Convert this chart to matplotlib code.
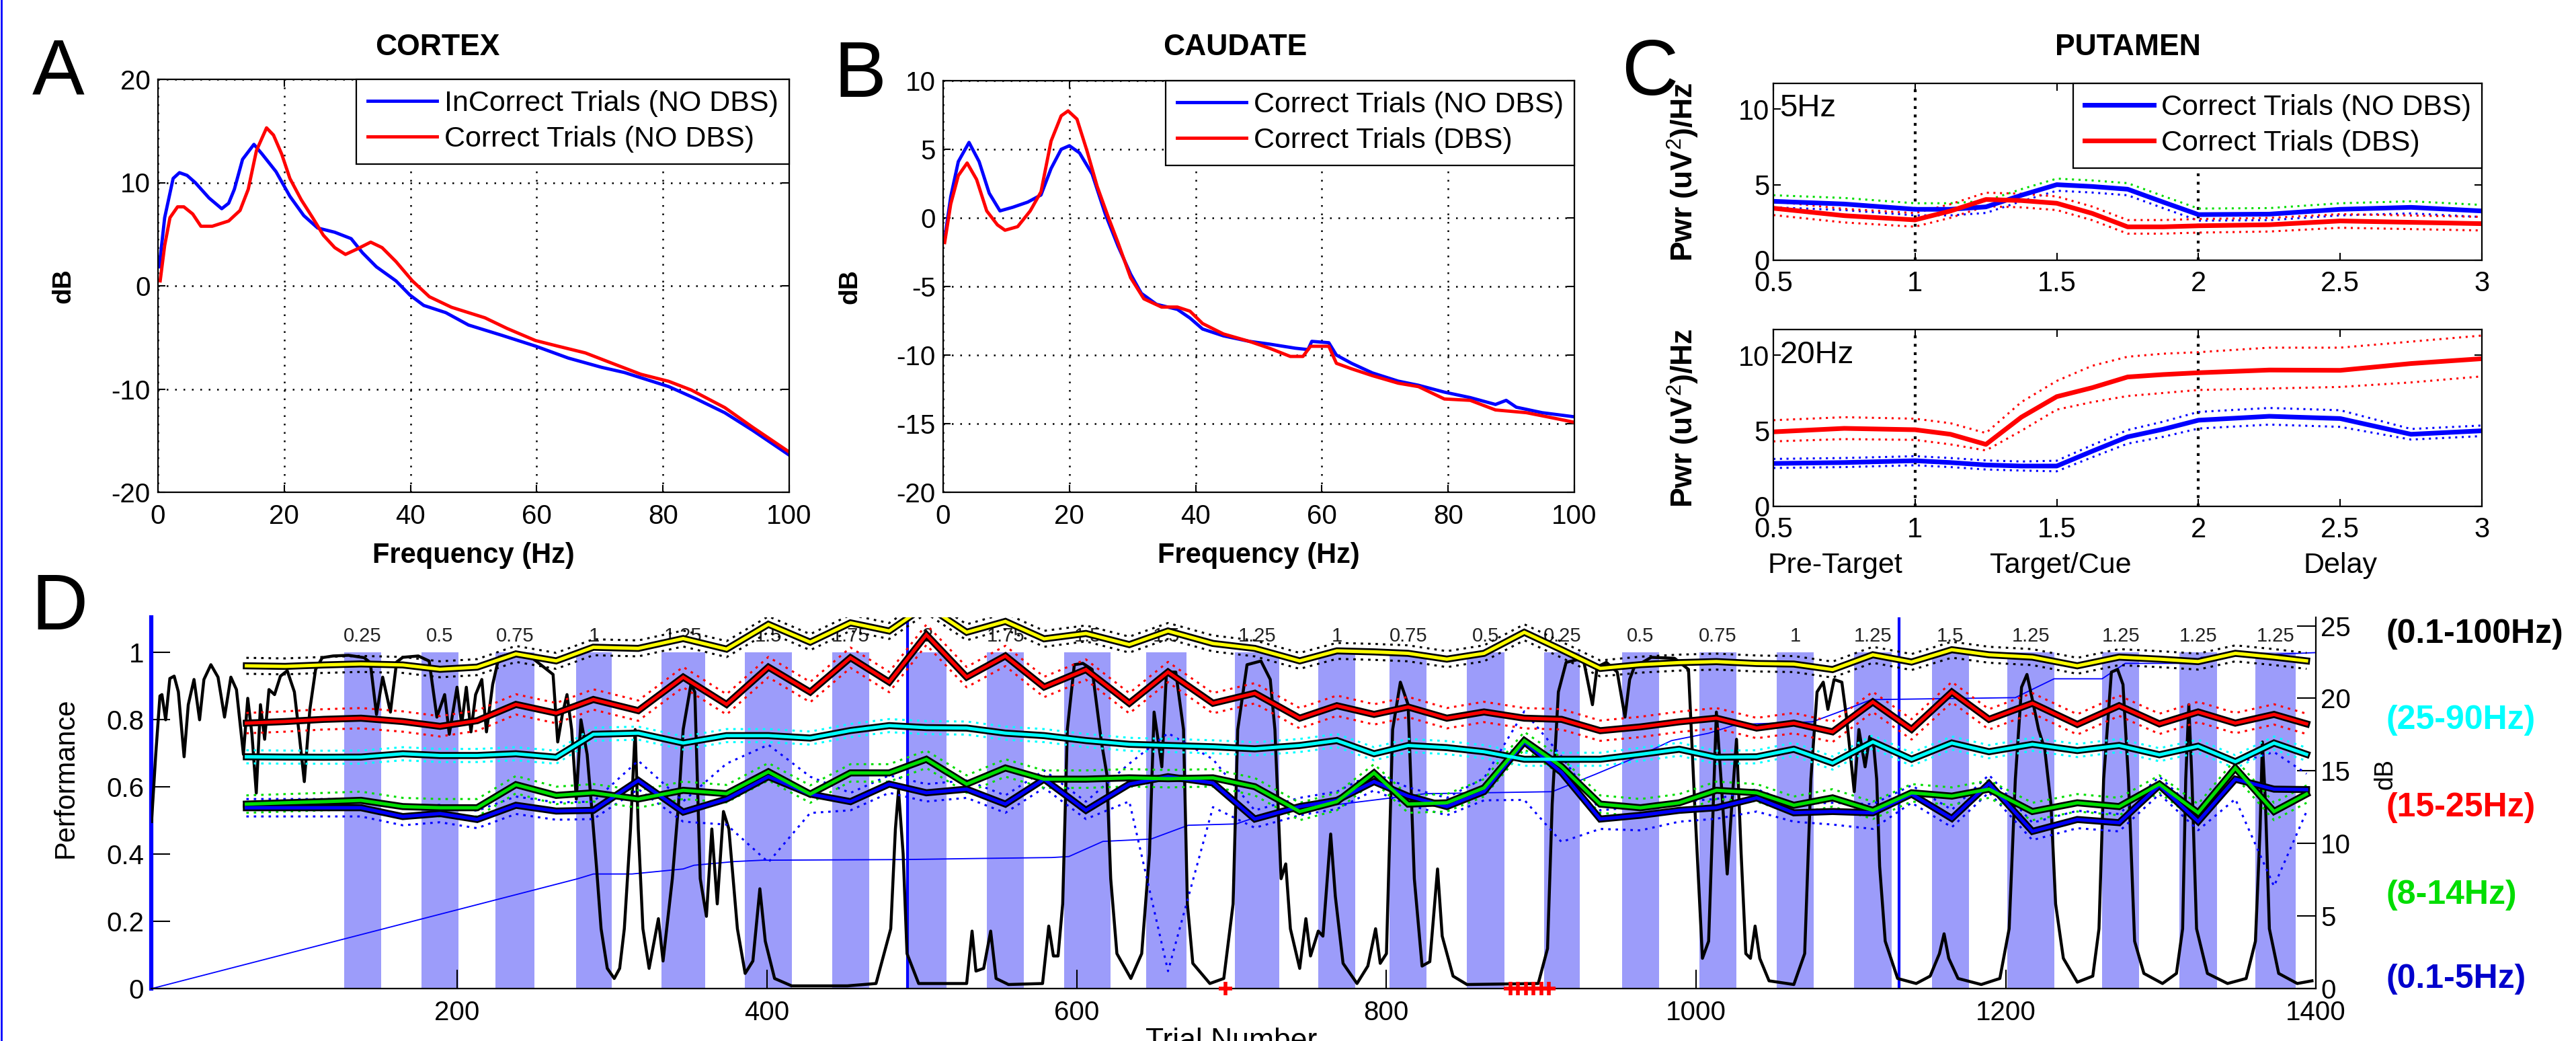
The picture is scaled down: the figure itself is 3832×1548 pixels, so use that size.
import numpy as np
import matplotlib
matplotlib.use("Agg")
import matplotlib.pyplot as plt
from matplotlib.lines import Line2D
from matplotlib.ticker import FormatStrFormatter

plt.rcParams['font.family'] = ['Liberation Sans', 'DejaVu Sans']
plt.rcParams['axes.unicode_minus'] = False
plt.rcParams['mathtext.fontset'] = 'custom'
plt.rcParams['mathtext.rm'] = 'Liberation Sans'
plt.rcParams['mathtext.bf'] = 'Liberation Sans:bold'
plt.rcParams['mathtext.it'] = 'Liberation Sans:italic'

# ======================= DATA =======================
# Panel A (CORTEX)
A_freq_incorrect = [0.2, 1.06, 2.4, 3.4, 4.6, 5.9, 8.1, 10.1, 11.2, 12.1, 13.4, 15.2, 16.5, 18.7, 20.9,
                    23.1, 25.3, 28, 30.6, 32.4, 34.6, 37.7, 39.9, 42.1, 45.6, 49.2, 54.5, 59.8, 65, 70.3,
                    73.9, 77.4, 80.9, 85.3, 89.8, 94.2, 100]
A_db_incorrect = [1.84, 6.6, 10.4, 10.96, 10.7, 10.0, 8.5, 7.47, 8.0, 9.35, 12.25, 13.7, 12.76, 11.06, 8.67,
                  6.8, 5.6, 5.19, 4.57, 3.2, 1.84, 0.48, -0.89, -1.9, -2.6, -3.8, -4.8, -5.84, -7.0, -7.9,
                  -8.4, -9.08, -9.76, -10.96, -12.3, -14.0, -16.4]
A_freq_correct = [0.35, 1.06, 1.9, 3.1, 4.1, 5.5, 6.8, 8.6, 11.2, 13, 14.3, 15.6, 17.2, 18.3, 19.6, 20.9,
                  22.7, 24.5, 26.2, 28, 29.7, 31.5, 33.7, 35.5, 37.7, 40.3, 43, 46.5, 49.2, 51.8, 55.3,
                  59.8, 63.3, 67.7, 72.1, 76.5, 80.9, 84.5, 89.8, 94.2, 100]
A_db_correct = [0.48, 3.9, 6.6, 7.65, 7.65, 6.96, 5.77, 5.77, 6.28, 7.3, 9.35, 13.1, 15.3, 14.6, 12.76, 10.4,
                8.33, 6.6, 4.9, 3.7, 3.04, 3.55, 4.23, 3.7, 2.35, 0.48, -1.06, -2.08, -2.6, -3.1, -4.13,
                -5.3, -5.84, -6.5, -7.54, -8.57, -9.25, -10.1, -11.8, -13.7, -16.1]

# Panel B (CAUDATE)
B_freq_nodbs = [0.24, 1.2, 2.4, 4.1, 5.7, 7.3, 9, 11, 13.4, 15.5, 17.1, 18.7, 20, 21.6, 23.6, 25.7, 27.7,
                29.7, 31.4, 33.8, 37.1, 39.1, 41.1, 44.4, 48.5, 51.7, 55.8, 57.8, 58.4, 61.1, 62.3, 64.7,
                68, 72.1, 75.3, 79.4, 83.5, 87.5, 89.2, 90.8, 94.9, 100]
B_db_nodbs = [-1.54, 1.54, 4.1, 5.5, 4.1, 1.8, 0.51, 0.77, 1.15, 1.67, 3.6, 5.0, 5.26, 4.74, 3.2, 0.26, -2.05,
              -4.1, -5.5, -6.3, -6.67, -7.3, -8.1, -8.6, -9.0, -9.2, -9.5, -9.6, -9.0, -9.1, -10.0, -10.6,
              -11.3, -11.9, -12.2, -12.7, -13.1, -13.6, -13.3, -13.8, -14.2, -14.5]
B_freq_dbs = [0.24, 1.2, 2.4, 3.8, 5.3, 6.9, 8.6, 9.8, 11.8, 13.8, 15.5, 17.1, 18.7, 19.8, 21.2, 22.8, 24.4,
              26.1, 27.7, 29.7, 31.8, 34.6, 37.1, 39.1, 41.1, 44.4, 48.5, 51.7, 55, 57, 58.2, 61.1, 62.3,
              64.7, 68, 72.1, 75.3, 79.4, 83.5, 87.5, 92.4, 95.7, 100]
B_db_dbs = [-1.8, 1.0, 3.08, 4.0, 2.8, 0.51, -0.51, -0.9, -0.64, 0.51, 1.9, 5.6, 7.44, 7.8, 7.2, 4.87, 2.3,
            0.13, -1.8, -4.36, -5.9, -6.5, -6.5, -6.8, -7.7, -8.46, -9.0, -9.5, -10.1, -10.1, -9.36, -9.36,
            -10.6, -11.0, -11.5, -12.05, -12.3, -13.2, -13.3, -14.0, -14.2, -14.5, -14.9]

# Panel C (PUTAMEN)
C_time = [0.5, 0.75, 1.0, 1.125, 1.25, 1.375, 1.5, 1.625, 1.75, 1.875, 2.0, 2.25, 2.5, 2.75, 3.0]
C5_nodbs = [3.9, 3.72, 3.37, 3.37, 3.53, 4.3, 5.0, 4.88, 4.7, 3.85, 3.02, 3.05, 3.37, 3.5, 3.26]
C5_dbs = [3.44, 2.95, 2.67, 3.26, 4.02, 3.95, 3.77, 3.1, 2.21, 2.21, 2.28, 2.35, 2.6, 2.51, 2.42]
C5_nodbs_err = 0.4
C5_dbs_err = 0.45
C20_nodbs = [2.84, 2.9, 3.02, 2.9, 2.74, 2.67, 2.67, 3.65, 4.6, 5.1, 5.7, 5.96, 5.81, 4.77, 5.0]
C20_nodbs_err = [0.3, 0.3, 0.3, 0.3, 0.3, 0.3, 0.35, 0.4, 0.45, 0.5, 0.55, 0.55, 0.55, 0.35, 0.35]
C20_dbs = [4.93, 5.16, 5.07, 4.77, 4.1, 5.9, 7.26, 7.85, 8.56, 8.72, 8.84, 9.02, 9.0, 9.45, 9.77]
C20_dbs_hi = [5.7, 5.9, 5.8, 5.5, 4.85, 6.9, 8.3, 9.3, 9.9, 10.1, 10.2, 10.5, 10.5, 10.9, 11.3]
C20_dbs_lo = [4.3, 4.45, 4.4, 4.1, 3.7, 5.0, 6.4, 6.9, 7.3, 7.5, 7.7, 7.8, 7.9, 8.2, 8.6]
C_phase_labels = ['Pre-Target', 'Target/Cue', 'Delay']

# Panel D - performance curve (trial, performance)
perf_trial = [2.8, 5.5, 8.2, 9.5, 11.9, 14.6, 17.4, 20.1, 23.8, 26.5, 30.2, 33.8, 36.6, 41.1, 45.7, 49.9, 54,
              57.6, 62.1, 64.9, 67.6, 70.4, 73.1, 75.8, 78.6, 82.2, 86, 90.4, 95, 97.8, 101.4, 105, 108.7,
              113, 120, 130, 140, 144, 148, 152, 157, 161, 165, 175, 182, 187, 192, 195, 200, 203, 206, 209,
              212, 216, 219, 223, 227, 237, 248, 262, 265, 268, 271, 274, 277, 280, 284, 287, 290, 293, 297,
              301.5, 305, 308, 312, 315, 317, 320, 324, 330, 333, 339, 343, 346, 351, 353.5, 357, 361,
              364.5, 368, 372, 375.5, 381, 386, 391, 395.5, 399, 405, 416, 452, 470.5, 480, 483, 485, 488,
              490.5, 498, 529, 532.5, 535, 540, 544.5, 548, 556, 578, 582, 585, 588, 591, 594, 598.5, 604,
              610, 616, 619.5, 622, 626, 635, 642, 647, 650, 652.3, 655, 658, 664, 669, 671.5, 675, 686, 695,
              701, 704, 710, 719, 725, 728, 732, 735, 738, 744, 748, 751, 756, 759, 764, 767, 772, 781, 788,
              793, 796, 800, 804, 809, 814, 818, 823, 828, 833, 836, 843, 852, 898, 904, 907, 911, 916, 927,
              933, 936, 942, 949, 954, 957, 960, 971, 986, 995, 999, 1004, 1008, 1011, 1013, 1016, 1020,
              1023, 1026, 1029, 1032, 1035, 1038, 1041, 1047, 1063, 1070, 1074, 1078, 1082, 1085, 1089,
              1094, 1097, 1102, 1105, 1109, 1112, 1114.5, 1116.5, 1118.4, 1122, 1130, 1142, 1151, 1157,
              1160, 1163, 1169, 1184, 1196, 1202, 1206, 1210, 1213.5, 1217, 1221, 1225, 1229, 1232, 1237,
              1246, 1256, 1260, 1263, 1268, 1272, 1275.5, 1279, 1283, 1289, 1301, 1310, 1314, 1316, 1318,
              1320, 1323, 1330, 1343, 1355, 1361, 1364, 1365.5, 1367.5, 1370, 1376, 1388, 1397.5]
perf_value = [0.497, 0.697, 0.871, 0.875, 0.80, 0.923, 0.93, 0.883, 0.69, 0.845, 0.92, 0.80, 0.92, 0.964,
              0.927, 0.808, 0.927, 0.89, 0.697, 0.864, 0.757, 0.582, 0.845, 0.742, 0.89, 0.875, 0.93, 0.946,
              0.883, 0.77, 0.616, 0.831, 0.95, 0.985, 0.99, 0.992, 0.985, 0.97, 0.816, 0.927, 0.823, 0.972,
              0.986, 0.99, 0.975, 0.808, 0.875, 0.757, 0.897, 0.786, 0.897, 0.764, 0.875, 0.92, 0.764, 0.905,
              0.986, 1.0, 0.986, 0.935, 0.734, 0.816, 0.875, 0.771, 0.564, 0.80, 0.697, 0.534, 0.364, 0.178,
              0.06, 0.030, 0.06, 0.178, 0.475, 0.771, 0.475, 0.178, 0.06, 0.208, 0.082, 0.327, 0.549, 0.771,
              0.905, 0.883, 0.327, 0.215, 0.475, 0.252, 0.527, 0.475, 0.178, 0.045, 0.082, 0.297, 0.141,
              0.030, 0.008, 0.008, 0.015, 0.178, 0.475, 0.59, 0.401, 0.104, 0.015, 0.015, 0.171, 0.052, 0.06,
              0.171, 0.030, 0.012, 0.015, 0.186, 0.097, 0.097, 0.252, 0.771, 0.964, 0.968, 0.95, 0.734, 0.638,
              0.327, 0.104, 0.030, 0.104, 0.401, 0.823, 0.749, 0.66, 0.942, 0.942, 0.771, 0.252, 0.075, 0.015,
              0.030, 0.252, 0.771, 0.964, 0.975, 0.92, 0.771, 0.327, 0.371, 0.178, 0.06, 0.208, 0.097, 0.171,
              0.156, 0.46, 0.275, 0.075, 0.015, 0.067, 0.178, 0.075, 0.104, 0.771, 0.912, 0.845, 0.327, 0.067,
              0.08, 0.356, 0.156, 0.037, 0.012, 0.015, 0.119, 0.549, 0.883, 0.971, 0.983, 0.845, 0.957, 0.971,
              0.942, 0.808, 0.92, 0.957, 0.986, 0.983, 0.95, 0.549, 0.09, 0.141, 0.549, 0.823, 0.623, 0.341,
              0.549, 0.742, 0.401, 0.104, 0.09, 0.186, 0.09, 0.023, 0.012, 0.104, 0.623, 0.883, 0.912, 0.831,
              0.92, 0.912, 0.808, 0.586, 0.771, 0.66, 0.75, 0.727, 0.623, 0.364, 0.141, 0.030, 0.015, 0.037,
              0.104, 0.163, 0.09, 0.030, 0.012, 0.030, 0.178, 0.623, 0.897, 0.935, 0.86, 0.771, 0.712, 0.549,
              0.252, 0.09, 0.019, 0.037, 0.178, 0.623, 0.942, 0.95, 0.905, 0.623, 0.141, 0.045, 0.015, 0.045,
              0.178, 0.623, 0.845, 0.623, 0.178, 0.045, 0.015, 0.030, 0.141, 0.475, 0.734, 0.549, 0.178,
              0.045, 0.015, 0.023]

# Panel D - cumulative learning curve (thin blue)
cum_trial = [3, 278, 288, 313, 346, 353, 379, 397, 489, 533, 584, 595, 617, 648, 672, 703, 717, 744, 783,
             825, 907, 935, 962, 984, 1008, 1026, 1075, 1103, 1113, 1206, 1231, 1262, 1277, 1322, 1326, 1400]
cum_value = [0.0, 0.327, 0.341, 0.341, 0.356, 0.367, 0.378, 0.382, 0.384, 0.387, 0.39, 0.393, 0.438, 0.445,
             0.486, 0.49, 0.512, 0.534, 0.556, 0.58, 0.586, 0.638, 0.69, 0.738, 0.76, 0.786, 0.794, 0.842,
             0.86, 0.866, 0.922, 0.922, 0.968, 0.968, 0.986, 1.0]

# Panel D - DBS blocks (shaded bands) with their labels
band_start = [127, 177, 225, 277, 332, 386, 442, 491, 542, 592, 645, 702, 756, 802, 852, 902, 952, 1002,
              1052, 1102, 1152, 1201, 1262, 1312, 1361]
band_end = [151, 201, 250, 300, 360, 416, 466, 516, 566, 622, 671, 731, 780, 826, 876, 925, 976, 1026,
            1076, 1126, 1176, 1231, 1286, 1336, 1387]
band_labels = ['0.25', '0.5', '0.75', '1', '1.25', '1.5', '1.75', '2', '1.75', '1.5', '1.5', '1.25', '1',
               '0.75', '0.5', '0.25', '0.5', '0.75', '1', '1.25', '1.5', '1.25', '1.25', '1.25', '1.25']
session_lines = [491, 1131]
error_trials = [696, 880, 885, 890, 895, 900, 905]

# Panel D - band power (dB)
bp_trial = [64, 89, 114, 138, 165, 189, 213, 238, 264, 288, 317, 346, 374, 401, 428, 454, 479, 503, 529,
            554, 579, 606, 634, 659, 688, 715, 744, 768, 792, 814, 839, 863, 889, 913, 938, 964, 989, 1013,
            1039, 1063, 1088, 1114, 1139, 1165, 1189, 1217, 1246, 1273, 1299, 1324, 1348, 1373, 1394]
bp_broad = [22.24, 22.2, 22.3, 22.37, 22.3, 22.0, 22.15, 23.06, 22.58, 23.52, 23.44, 24.12, 23.39, 25.1,
            23.87, 25.2, 24.64, 26.4, 24.55, 25.3, 24.1, 24.47, 23.7, 24.64, 23.78, 23.44, 22.58, 23.27, 23.2,
            23.1, 22.7, 23.1, 24.55, 23.35, 22.06, 22.32, 22.46, 22.53, 22.4, 22.36, 21.98, 23.0, 22.5, 23.35,
            23.0, 22.84, 22.24, 22.84, 22.7, 22.53, 23.1, 22.84, 22.58]
bp_beta = [18.29, 18.4, 18.55, 18.63, 18.4, 18.07, 18.46, 19.58, 18.98, 19.92, 19.15, 21.46, 19.58, 22.15,
           20.43, 22.8, 21.12, 24.38, 21.46, 22.92, 20.78, 21.98, 19.66, 21.81, 19.66, 20.35, 18.63, 19.49,
           18.89, 19.4, 18.63, 19.06, 18.63, 18.55, 17.77, 18.03, 18.38, 18.63, 17.95, 18.29, 17.69, 19.75,
           17.86, 20.43, 18.55, 19.66, 18.2, 19.49, 18.24, 19.06, 18.29, 18.89, 18.24]
bp_gamma = [15.97, 15.95, 15.94, 15.95, 16.18, 16.06, 16.06, 16.18, 15.94, 17.52, 17.6, 16.92, 17.43, 17.43,
            17.26, 17.78, 18.12, 17.98, 17.95, 17.6, 17.43, 17.09, 16.83, 16.75, 16.66, 16.52, 16.75, 17.09,
            16.18, 16.75, 16.6, 16.32, 15.8, 15.8, 15.8, 16.14, 16.49, 15.94, 15.97, 16.49, 15.54, 17.0, 15.8,
            16.92, 16.32, 16.83, 16.4, 16.75, 16.11, 16.7, 15.63, 16.92, 16.14]
bp_alpha = [12.71, 12.8, 12.88, 12.97, 12.54, 12.46, 12.46, 14.05, 13.31, 13.49, 13.06, 13.66, 13.43, 14.94,
            13.4, 14.86, 14.86, 15.8, 14.09, 15.2, 14.43, 14.43, 14.52, 14.46, 14.52, 13.91, 12.2, 12.88,
            14.86, 12.71, 12.8, 13.83, 17.09, 15.3, 12.71, 12.46, 12.8, 13.66, 13.49, 12.63, 13.14, 12.28,
            13.49, 13.26, 13.74, 12.2, 12.8, 12.54, 14.09, 12.11, 15.2, 12.2, 13.4]
bp_delta = [12.46, 12.46, 12.46, 12.46, 11.85, 12.06, 11.65, 12.63, 12.23, 12.28, 14.34, 12.16, 13.06, 14.6,
            13.4, 12.88, 14.09, 13.49, 13.74, 12.71, 14.43, 12.28, 14.09, 14.6, 14.17, 11.68, 12.54, 12.97,
            14.26, 13.26, 12.54, 13.57, 17.0, 14.9, 11.68, 11.94, 12.28, 12.46, 13.14, 12.11, 12.2, 12.11,
            13.4, 11.72, 14.12, 10.83, 11.65, 11.43, 14.0, 11.51, 14.43, 13.74, 13.71]
bp_delta_hi = [13.06, 13.06, 13.06, 13.06, 12.45, 12.66, 12.25, 13.23, 12.83, 12.88, 15.7, 12.9, 15.5, 16.8,
               14.6, 13.48, 14.69, 14.09, 14.34, 13.31, 15.03, 12.88, 15.5, 17.6, 15.8, 12.28, 13.14, 13.57,
               14.86, 13.86, 13.14, 14.5, 19.1, 16.0, 12.28, 12.54, 12.88, 13.06, 13.74, 12.71, 12.8, 12.71,
               14.0, 12.32, 14.72, 11.43, 12.25, 12.03, 14.6, 12.11, 15.5, 16.3, 14.8]
bp_delta_lo = [11.86, 11.86, 11.86, 11.86, 11.25, 11.46, 11.05, 12.03, 11.63, 11.68, 13.74, 11.5, 11.3, 8.7,
               12.1, 12.28, 13.49, 12.89, 13.14, 12.11, 13.83, 11.68, 12.9, 1.2, 12.5, 11.08, 11.94, 12.37,
               13.66, 12.66, 11.94, 12.97, 13.0, 10.1, 11.0, 10.9, 11.5, 11.7, 12.2, 11.5, 11.3, 11.0, 12.8,
               11.12, 13.52, 10.23, 11.05, 10.83, 13.4, 10.91, 13.06, 7.05, 12.2]
bp_half_width = {'broad': 0.55, 'beta': 0.7, 'gamma': 0.45, 'alpha': 0.6}
band_names = ['(0.1-100Hz)', '(25-90Hz)', '(15-25Hz)', '(8-14Hz)', '(0.1-5Hz)']

# ======================= FIGURE =======================
W, H = 3832, 1548
def R(l, t, r, b):
    return [l / W, 1 - b / H, (r - l) / W, (b - t) / H]
def FX(x):
    return x / W
def FY(y):
    return 1 - y / H

BLUE = '#0000ff'
RED = '#ff0000'
GREEN = '#00dd00'
CYAN = '#00ffff'
YELLOW = '#ffff00'
BAND = '#9c9cfa'

fig = plt.figure(figsize=(W / 100, H / 100), dpi=100)
fig.patch.set_facecolor('white')
fig.add_artist(Line2D([0.0006, 0.0006], [0, 1], color=BLUE, lw=2, transform=fig.transFigure))

TICK_FS = 29
LEG_FS = 31


def style_box(ax):
    for s in ax.spines.values():
        s.set_linewidth(1.6)
        s.set_color('k')
    ax.tick_params(direction='in', length=8, width=1.5, top=True, right=True,
                   labelsize=TICK_FS, colors='k')
    ax.tick_params(axis='x', pad=12)
    ax.tick_params(axis='y', pad=8)


def make_legend(ax):
    leg = ax.legend(loc='upper right', bbox_to_anchor=(1, 1), borderaxespad=0, fontsize=LEG_FS,
                    frameon=True, fancybox=False, edgecolor='k', framealpha=1, handlelength=2.4,
                    handletextpad=0.25, borderpad=0.38, labelspacing=0.3)
    leg.get_frame().set_linewidth(1.6)
    return leg


GRID_KW = dict(color='k', linewidth=1.8, linestyle=(0, (1, 4)))

# ---------- Panel A ----------
axA = fig.add_axes(R(235, 118, 1174, 732))
axA.plot(A_freq_incorrect, A_db_incorrect, color=BLUE, lw=3.5, label='InCorrect Trials (NO DBS)')
axA.plot(A_freq_correct, A_db_correct, color=RED, lw=3.5, label='Correct Trials (NO DBS)')
axA.set_xlim(0, 100)
axA.set_ylim(-20, 20)
axA.set_xticks([0, 20, 40, 60, 80, 100])
axA.set_yticks([-20, -10, 0, 10, 20])
axA.grid(True, **GRID_KW)
style_box(axA)
make_legend(axA)
axA.set_ylabel('dB', fontsize=28, fontweight='bold')
axA.yaxis.set_label_coords(-0.131, 0.5)
axA.text(0.5, -0.153, 'Frequency (Hz)', transform=axA.transAxes, ha='center', va='center',
         fontsize=30, fontweight='bold')
fig.text(FX(651), FY(71), 'CORTEX', ha='center', va='center', fontsize=32, fontweight='bold')
fig.text(FX(48), FY(141), 'A', ha='left', va='baseline', fontsize=84)

# ---------- Panel B ----------
axB = fig.add_axes(R(1403, 120, 2342, 732))
axB.plot(B_freq_nodbs, B_db_nodbs, color=BLUE, lw=3.5, label='Correct Trials (NO DBS)')
axB.plot(B_freq_dbs, B_db_dbs, color=RED, lw=3.5, label='Correct Trials (DBS)')
axB.set_xlim(0, 100)
axB.set_ylim(-20, 10)
axB.set_xticks([0, 20, 40, 60, 80, 100])
axB.set_yticks([-20, -15, -10, -5, 0, 5, 10])
axB.grid(True, **GRID_KW)
style_box(axB)
make_legend(axB)
axB.set_ylabel('dB', fontsize=28, fontweight='bold')
axB.yaxis.set_label_coords(-0.128, 0.5)
axB.text(0.5, -0.153, 'Frequency (Hz)', transform=axB.transAxes, ha='center', va='center',
         fontsize=30, fontweight='bold')
fig.text(FX(1837), FY(71), 'CAUDATE', ha='center', va='center', fontsize=32, fontweight='bold')
fig.text(FX(1240), FY(144), 'B', ha='left', va='baseline', fontsize=84)

# ---------- Panel C ----------
DOT = (0, (1, 2.2))
t = np.array(C_time)
axC1 = fig.add_axes(R(2638, 124, 3692, 387))
axC2 = fig.add_axes(R(2638, 490, 3692, 753))

nb = np.array(C5_nodbs)
db = np.array(C5_dbs)
axC1.plot(t, nb + C5_nodbs_err, color=GREEN, lw=2.2, ls=DOT)
axC1.plot(t, nb - C5_nodbs_err, color=BLUE, lw=2.2, ls=DOT)
axC1.plot(t, db + C5_dbs_err, color=RED, lw=2.2, ls=DOT)
axC1.plot(t, db - C5_dbs_err, color=RED, lw=2.2, ls=DOT)
axC1.plot(t, nb, color=BLUE, lw=5, label='Correct Trials (NO DBS)')
axC1.plot(t, db, color=RED, lw=5, label='Correct Trials (DBS)')
axC1.text(0.009, 0.858, '5Hz', transform=axC1.transAxes, ha='left', va='center', fontsize=34)

nb20 = np.array(C20_nodbs)
e20 = np.array(C20_nodbs_err)
axC2.plot(t, np.array(C20_dbs_hi), color=RED, lw=2.2, ls=DOT)
axC2.plot(t, np.array(C20_dbs_lo), color=RED, lw=2.2, ls=DOT)
axC2.plot(t, nb20 + e20, color=BLUE, lw=2.2, ls=DOT)
axC2.plot(t, nb20 - e20, color=BLUE, lw=2.2, ls=DOT)
axC2.plot(t, nb20, color=BLUE, lw=5)
axC2.plot(t, C20_dbs, color=RED, lw=5)
axC2.text(0.009, 0.856, '20Hz', transform=axC2.transAxes, ha='left', va='center', fontsize=34)

for ax in (axC1, axC2):
    ax.set_xlim(0.5, 3)
    ax.set_ylim(0, 11.7)
    ax.set_xticks([0.5, 1, 1.5, 2, 2.5, 3])
    ax.set_yticks([0, 5, 10])
    ax.xaxis.set_major_formatter(FormatStrFormatter('%g'))
    for xv in (1, 2):
        ax.axvline(xv, color='k', lw=3, ls=(0, (1, 2.0)), zorder=1)
    style_box(ax)
    ax.tick_params(axis='x', labelsize=30, pad=11)
    ax.tick_params(axis='y', labelsize=30, pad=4)
    ax.set_ylabel('Pwr (uV$^{2}$)/Hz', fontsize=32, fontweight='bold')
    ax.yaxis.set_label_coords(-0.1025, 0.5)
make_legend(axC1)
fig.text(FX(3165), FY(71), 'PUTAMEN', ha='center', va='center', fontsize=32, fontweight='bold')
fig.text(FX(2412), FY(141), 'C', ha='left', va='baseline', fontsize=84)
for lab, xc in zip(C_phase_labels, [2730, 3065, 3481]):
    fig.text(FX(xc), FY(841), lab, ha='center', va='center', fontsize=31)

# ---------- Panel D ----------
axD = fig.add_axes(R(225, 918, 3445, 1470))
axD.set_xlim(2.6, 1400)
axD.set_ylim(0, 1.105)
for s, e in zip(band_start, band_end):
    axD.fill_between([s, e], [0, 0], [1, 1], color=BAND, lw=0, zorder=0)
for s, e, lab in zip(band_start, band_end, band_labels):
    axD.text((s + e) / 2, 1.048, lab, ha='center', va='center', fontsize=21, color='#222222', zorder=1)
axD.plot(cum_trial, cum_value, color=BLUE, lw=1.3, zorder=2)
for v in session_lines:
    axD.axvline(v, color=BLUE, lw=3, zorder=2)
axD.plot(perf_trial, perf_value, color='k', lw=3.2, zorder=3)
axD.plot(error_trials, [0] * len(error_trials), '+', color=RED, ms=15, mew=4, clip_on=False, zorder=6)
axD.set_xticks([200, 400, 600, 800, 1000, 1200, 1400])
axD.set_yticks([0, 0.2, 0.4, 0.6, 0.8, 1.0])
axD.yaxis.set_major_formatter(FormatStrFormatter('%g'))
axD.spines['top'].set_visible(False)
axD.spines['right'].set_visible(False)
axD.spines['left'].set_color(BLUE)
axD.spines['left'].set_linewidth(4.5)
axD.spines['bottom'].set_linewidth(1.6)
axD.tick_params(direction='in', length=20, width=1.5, labelsize=TICK_FS, colors='k')
axD.tick_params(axis='x', pad=12)
axD.tick_params(axis='y', pad=8)
axD.set_ylabel('Performance', fontsize=30)
axD.yaxis.set_label_coords(-(225 - 118) / 3220, (1470 - 1157) / 552)

ax2 = axD.twinx()
ax2.set_ylim(0, 25.58)
ax2.set_yticks([0, 5, 10, 15, 20, 25])
for side in ('top', 'left', 'bottom'):
    ax2.spines[side].set_visible(False)
ax2.spines['right'].set_linewidth(1.6)
ax2.tick_params(axis='y', direction='in', length=20, width=1.5, labelsize=TICK_FS, pad=5)
ax2.set_ylabel('dB', fontsize=27, rotation=90)
ax2.yaxis.set_label_coords(1.0 + (3530 - 3445) / 3220, (1470 - 1151) / 552)

x = np.array(bp_trial)
BDOT = (0, (1.2, 2.4))


def band_power(y, color, lo, hi, bound_color_hi, bound_color_lo):
    y = np.array(y)
    ax2.plot(x, hi, color=bound_color_hi, lw=2.2, ls=BDOT, zorder=2)
    ax2.plot(x, lo, color=bound_color_lo, lw=2.2, ls=BDOT, zorder=2)
    ax2.plot(x, y, color='k', lw=7.5, zorder=3, solid_joinstyle='miter')
    ax2.plot(x, y, color=color, lw=3.6, zorder=4, solid_joinstyle='miter')


band_power(bp_delta, BLUE, np.array(bp_delta_lo), np.array(bp_delta_hi), BLUE, BLUE)
a = np.array(bp_alpha)
band_power(a, GREEN, a - bp_half_width['alpha'], a + bp_half_width['alpha'], GREEN, GREEN)
g = np.array(bp_gamma)
band_power(g, CYAN, g - bp_half_width['gamma'], g + bp_half_width['gamma'], CYAN, CYAN)
b = np.array(bp_beta)
band_power(b, RED, b - bp_half_width['beta'], b + bp_half_width['beta'], RED, RED)
y = np.array(bp_broad)
band_power(y, YELLOW, y - bp_half_width['broad'], y + bp_half_width['broad'], 'k', 'k')

fig.text(FX(46), FY(936), 'D', ha='left', va='baseline', fontsize=84)
fig.text(FX(1832), FY(1528), 'Trial Number', ha='center', va='top', fontsize=32)

for name, col, yc in zip(band_names, ['k', CYAN, RED, GREEN, '#0000cc'], [943, 1071, 1201, 1331, 1456]):
    fig.text(FX(3549), FY(yc), name, ha='left', va='center', fontsize=36, fontweight='bold', color=col)

fig.savefig('out.png', dpi=100)
